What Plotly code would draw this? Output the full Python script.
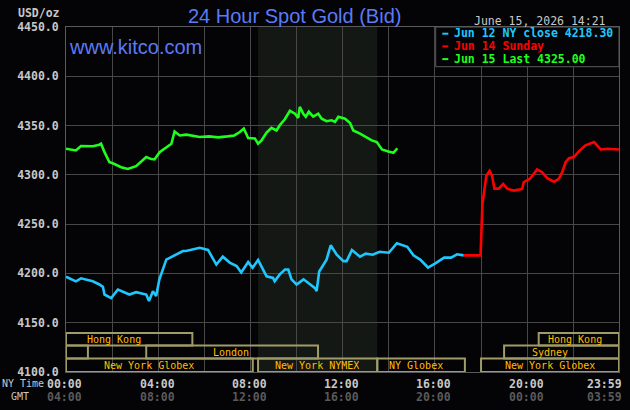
import plotly.graph_objects as go

# ---------------- data ----------------
cyan_h = [0, 0.43, 0.65, 1.0, 1.16, 1.45, 1.6, 1.67, 1.96, 2.25,
          2.5, 2.75, 3.04, 3.48, 3.6, 3.77, 3.91, 4.05, 4.35, 4.64,
          5.07, 5.2, 5.8, 6.16, 6.4, 6.52, 6.8, 7.1, 7.4, 7.6,
          7.9, 8.09, 8.33, 8.48, 8.7, 8.98, 9.05, 9.27, 9.5, 9.64,
          9.78, 10.0, 10.3, 10.58, 10.8, 10.87, 10.98, 11.3, 11.48, 11.74,
          12.03, 12.17, 12.4, 12.75, 13.0, 13.3, 13.6, 14.0, 14.35, 14.8,
          15.07, 15.36, 15.7, 16.0, 16.4, 16.7, 16.96, 17.25]
cyan_v = [4196.6, 4192, 4195, 4193, 4192, 4188.8, 4186.4, 4178.6, 4175, 4183.7,
          4181, 4178.6, 4181, 4178.6, 4172, 4182, 4177, 4194, 4214, 4217.6,
          4222.7, 4222.8, 4226, 4223.8, 4214, 4209, 4217, 4211, 4207.5, 4201,
          4211.5, 4205.8, 4213.6, 4206.8, 4197, 4195.5, 4192, 4199, 4204, 4204,
          4194, 4188.8, 4194, 4189, 4185, 4182, 4202, 4214, 4228.6, 4219,
          4212.5, 4212.5, 4223.8, 4217, 4220, 4219, 4222, 4221, 4230.6, 4227,
          4218.4, 4214, 4206, 4210, 4216, 4216, 4219.4, 4218.3]

red_h = [17.25, 17.98, 18.02, 18.06, 18.14, 18.23, 18.37, 18.48, 18.58, 18.77,
         18.96, 19.13, 19.42, 19.78, 19.85, 20.14, 20.43, 20.65, 20.87, 21.16,
         21.37, 21.52, 21.67, 21.81, 22.03, 22.24, 22.53, 22.9, 23.19, 23.48, 23.98]
red_v = [4218.3, 4218.3, 4245, 4270, 4284, 4299, 4304, 4299, 4286, 4286,
         4290.8, 4286, 4284, 4285.7, 4292.5, 4296.5, 4305.4, 4302.7, 4296.6, 4293,
         4296, 4302.7, 4313, 4317, 4318, 4323.8, 4330, 4333.3, 4325.8, 4326.5, 4325.8]

green_h = [0, 0.43, 0.65, 1.16, 1.45, 1.52, 1.67, 1.88, 2.1, 2.39,
           2.68, 3.04, 3.48, 3.7, 3.84, 4.06, 4.42, 4.57, 4.71, 4.93,
           5.22, 5.8, 6.2, 6.6, 7.0, 7.3, 7.54, 7.71, 7.9, 8.19,
           8.33, 8.48, 8.7, 8.91, 9.13, 9.27, 9.49, 9.71, 9.93, 10.07,
           10.14, 10.29, 10.4, 10.53, 10.72, 10.94, 11.09, 11.3, 11.52, 11.67,
           11.81, 12.1, 12.32, 12.46, 12.75, 12.97, 13.26, 13.48, 13.7, 13.98,
           14.2, 14.37]
green_v = [4326.5, 4324.8, 4329.3, 4329, 4330.6, 4331.6, 4323, 4313, 4311, 4307.8,
           4306, 4308.8, 4318, 4316, 4315.6, 4323, 4329, 4331.6, 4344, 4340,
           4340.8, 4338.4, 4339, 4338, 4339, 4340, 4343.5, 4347, 4337.4, 4337,
           4331.6, 4335, 4342.9, 4347.6, 4345, 4350.3, 4356.4, 4365, 4362, 4357.8,
           4369, 4362, 4359, 4364, 4359, 4362, 4357, 4354.4, 4355.4, 4353.7,
           4359, 4357, 4352.6, 4345, 4341.8, 4339, 4335, 4333.3, 4325.8, 4323.8,
           4322.4, 4327]

series_names = ["Jun 12 NY close 4218.30", "Jun 14 Sunday", "Jun 15 Last 4325.00"]
series_colors = ["#1ec8ff", "#ff0000", "#1eff1e"]

tick_pos = [0, 4, 8, 12, 16, 20, 23.983]
ny_ticks = ["00:00", "04:00", "08:00", "12:00", "16:00", "20:00", "23:59"]
gmt_ticks = ["04:00", "08:00", "12:00", "16:00", "20:00", "00:00", "03:59"]

# market sessions: name, start hour, end hour, row (0 bottom), label hour
sess_name = ["New York Globex", "New York NYMEX", "NY Globex", "New York Globex",
             "", "London", "Sydney", "Hong Kong", "Hong Kong"]
sess_start = [0, 8.33, 13.5, 18.0, 0, 3.48, 19.0, 0, 20.5]
sess_end = [8.1, 13.5, 17.3, 23.983, 0.95, 10.93, 23.983, 5.48, 23.983]
sess_row = [0, 0, 0, 0, 1, 1, 1, 2, 2]
sess_label_h = [3.62, 10.88, 15.19, 20.97, 0, 7.15, 20.99, 2.1, 22.06]
row_edges = [4100, 4113.6, 4127, 4139.5]

nymex_window = [8.33, 13.5]
X_MAX = 23.983
Y_MIN, Y_MAX = 4100, 4450

# ---------------- figure ----------------
BG = "#040306"
GRID = "#474747"
MONO = "DejaVu Sans Mono"
L, R, T, B, W, H = 66, 11, 27, 38, 630, 410
PW, PH = W - L - R, H - T - B


def px(xp):
    return (xp - L) / PW


def py(yp):
    return (H - B - yp) / PH


fig = go.Figure()
for hs, vs, nm, col in zip([cyan_h, red_h, green_h], [cyan_v, red_v, green_v],
                           series_names, series_colors):
    fig.add_trace(go.Scatter(x=hs, y=vs, mode="lines", name=nm,
                             line=dict(color=col, width=2.6), hoverinfo="skip"))

shapes = []
# NYMEX shaded window
shapes.append(dict(type="rect", xref="x", yref="y", x0=nymex_window[0], x1=nymex_window[1],
                   y0=Y_MIN, y1=Y_MAX, fillcolor="#141814", line=dict(width=0), layer="below"))

annotations = []
for nm, s, e, r, lh in zip(sess_name, sess_start, sess_end, sess_row, sess_label_h):
    shapes.append(dict(type="rect", xref="x", yref="y", x0=s, x1=e,
                       y0=row_edges[r], y1=row_edges[r + 1],
                       line=dict(color="#a09c68", width=2), fillcolor="rgba(0,0,0,0)",
                       layer="above"))
    if nm:
        annotations.append(dict(x=lh, y=(row_edges[r] + row_edges[r + 1]) / 2, xref="x", yref="y",
                                text=nm, showarrow=False, xanchor="center", yanchor="middle",
                                height=12,
                                font=dict(family=MONO, size=10, color="#ffbf00")))

# legend box
shapes.append(dict(type="rect", xref="paper", yref="paper", x0=px(435.7), x1=1,
                   y0=py(66.7), y1=1, fillcolor=BG, line=dict(color="#5a5a5a", width=1),
                   layer="above"))
leg_y = [33.7, 46.4, 59.1]
for nm, col, yy in zip(series_names, series_colors, leg_y):
    shapes.append(dict(type="line", xref="paper", yref="paper", x0=px(442.3), x1=px(448.3),
                       y0=py(yy), y1=py(yy), line=dict(color=col, width=2)))
    annotations.append(dict(x=px(451.5), y=py(yy), xref="paper", yref="paper", text=nm,
                            showarrow=False, xanchor="left", yanchor="middle", height=12.6,
                            font=dict(family=MONO, size=11.5, color=col, weight="bold")))

# x tick labels (NY time and GMT)
for i, (tp, a, g) in enumerate(zip(tick_pos, ny_ticks, gmt_ticks)):
    if i == len(tick_pos) - 1:
        xa, xs = "right", 5
    else:
        xa, xs = "center", (-2 if i == 0 else -1)
    annotations.append(dict(x=tp, y=0, xref="x", yref="paper", text=a, showarrow=False,
                            xanchor=xa, yanchor="middle", xshift=xs, yshift=-11.5, height=13,
                            font=dict(family=MONO, size=11.5, color="#c8c8c8", weight="bold")))
    annotations.append(dict(x=tp, y=0, xref="x", yref="paper", text=g, showarrow=False,
                            xanchor=xa, yanchor="middle", xshift=xs, yshift=-24.5, height=13,
                            font=dict(family=MONO, size=11.5, color="#5a5a5a", weight="bold")))

annotations += [
    dict(x=px(23.3), y=py(383.5), xref="paper", yref="paper", text="NY Time", showarrow=False,
         xanchor="center", yanchor="middle", height=13,
         font=dict(family=MONO, size=10, color="#c8c8c8")),
    dict(x=px(19.5), y=py(396.5), xref="paper", yref="paper", text="GMT", showarrow=False,
         xanchor="center", yanchor="middle", height=13,
         font=dict(family=MONO, size=10, color="#c8c8c8")),
    dict(x=px(61.5), y=py(13.3), xref="paper", yref="paper", text="USD/oz", showarrow=False,
         xanchor="right", yanchor="middle",
         font=dict(family=MONO, size=11.5, color="#c8c8c8", weight="bold")),
    dict(x=px(294), y=py(16), xref="paper", yref="paper", text="24 Hour Spot Gold (Bid)",
         showarrow=False, xanchor="center", yanchor="middle",
         font=dict(family="Liberation Sans", size=20, color="#5a7bf5")),
    dict(x=px(67), y=py(47.3), xref="paper", yref="paper", text="www.kitco.com",
         showarrow=False, xanchor="left", yanchor="middle",
         font=dict(family="Liberation Sans", size=20, color="#5a7bf5")),
    dict(x=px(607.5), y=py(20.7), xref="paper", yref="paper", text="June 15, 2026 14:21",
         showarrow=False, xanchor="right", yanchor="middle", height=13,
         font=dict(family=MONO, size=11.5, color="#c8c8c8")),
]

fig.update_layout(
    width=W, height=H, margin=dict(l=L, r=R, t=T, b=B, pad=0),
    paper_bgcolor=BG, plot_bgcolor=BG, showlegend=False,
    shapes=shapes, annotations=annotations,
    xaxis=dict(range=[0, X_MAX], tick0=0, dtick=2, showticklabels=False,
               showgrid=True, gridcolor=GRID, gridwidth=1, zeroline=False,
               showline=True, linecolor="#5a5a5a", linewidth=1, mirror=True, ticks=""),
    yaxis=dict(range=[Y_MIN, Y_MAX], tick0=4100, dtick=50, tickformat=".1f",
               showgrid=True, gridcolor=GRID, gridwidth=1, zeroline=False,
               showline=True, linecolor="#5a5a5a", linewidth=1, mirror=True, ticks="",
               ticklabelstandoff=4,
               tickfont=dict(family=MONO, size=11.5, color="#c8c8c8", weight="bold")),
)

fig.write_html("out.html")
